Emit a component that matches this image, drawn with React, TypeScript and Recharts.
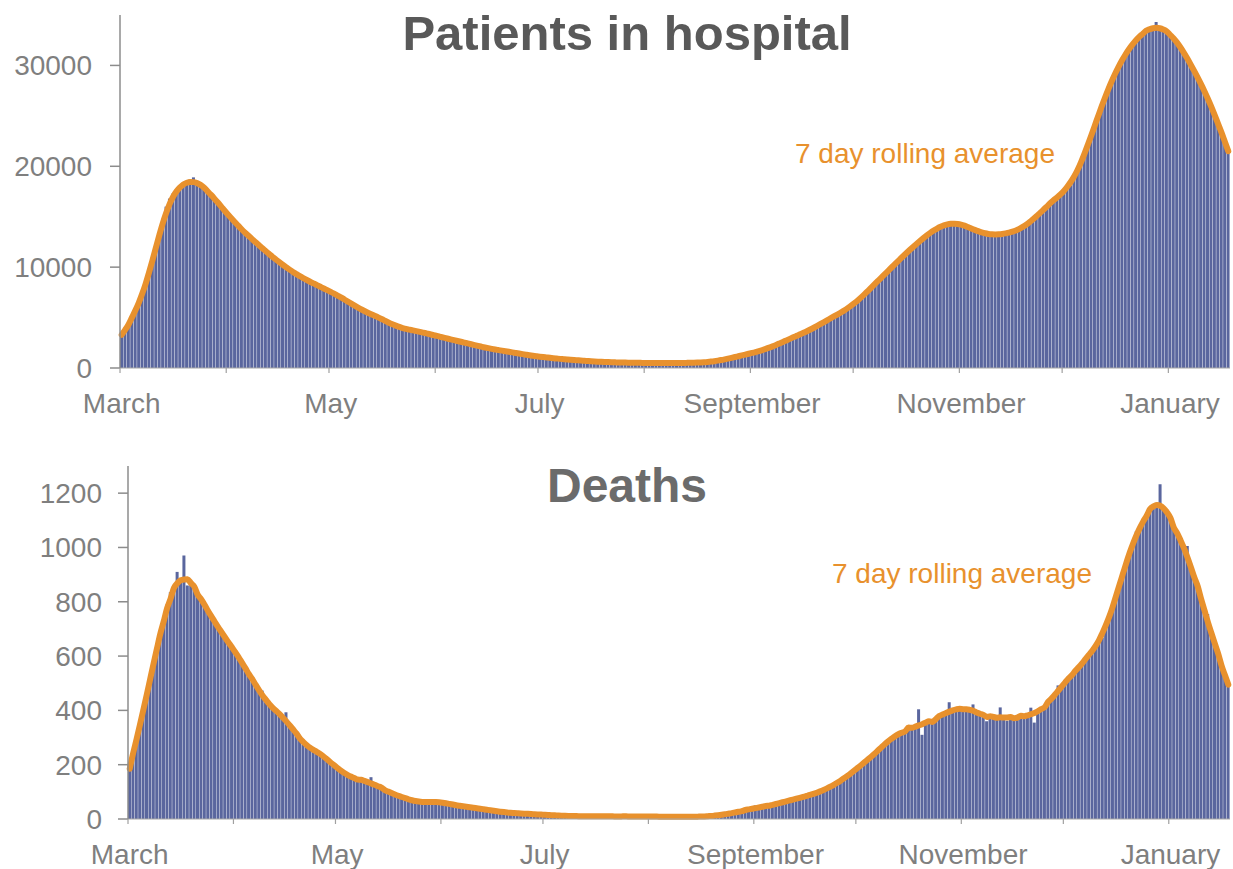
import { ComposedChart, Bar, Line, XAxis, YAxis } from "recharts";

// daily values, day 0 = start of the series (~20 March)
const hospital = [
  3300, 3750, 4300, 4850, 5400, 6300, 7200, 8200, 9200, 10500,
  11800, 13300, 14800, 16000, 16800, 17300, 17700, 18000, 18300, 18500,
  18700, 18900, 18500, 18200, 17900, 17600, 17300, 16900, 16400, 16000,
  15600, 15200, 14800, 14400, 14100, 13800, 13400, 13100, 12700, 12500,
  12200, 11900, 11600, 11300, 11000, 10700, 10500, 10200, 10000, 9750,
  9500, 9300, 9050, 8900, 8700, 8550, 8400, 8200, 8050, 7900,
  7700, 7550, 7400, 7200, 7000, 6800, 6600, 6400, 6150, 5950,
  5760, 5600, 5450, 5300, 5150, 5000, 4850, 4700, 4500, 4300,
  4100, 4000, 3950, 3850, 3800, 3750, 3650, 3600, 3500, 3450,
  3350, 3250, 3180, 3100, 3000, 2920, 2840, 2750, 2680, 2600,
  2520, 2440, 2360, 2280, 2200, 2100, 2000, 1950, 1900, 1830,
  1780, 1720, 1660, 1600, 1550, 1500, 1430, 1380, 1320, 1260,
  1200, 1160, 1120, 1080, 1050, 1000, 970, 940, 900, 870,
  840, 810, 790, 760, 740, 720, 700, 670, 650, 630,
  600, 590, 580, 570, 560, 550, 540, 530, 525, 520,
  515, 510, 505, 500, 500, 500, 495, 490, 490, 490,
  490, 490, 495, 500, 500, 505, 510, 520, 530, 540,
  560, 590, 620, 660, 710, 770, 840, 920, 1000, 1100,
  1180, 1250, 1320, 1400, 1480, 1570, 1660, 1760, 1870, 2000,
  2130, 2270, 2420, 2580, 2740, 2900, 3050, 3200, 3330, 3470,
  3620, 3780, 3950, 4150, 4400, 4580, 4760, 4940, 5120, 5300,
  5500, 5720, 5940, 6160, 6400, 6700, 7000, 7350, 7700, 8050,
  8400, 8750, 9050, 9400, 9700, 10050, 10400, 10750, 11100, 11400,
  11700, 12000, 12300, 12600, 12900, 13200, 13450, 13700, 13900, 14050,
  14200, 14300, 14400, 14450, 14400, 14300, 14150, 14000, 13850, 13650,
  13500, 13400, 13300, 13250, 13200, 13200, 13200, 13250, 13300, 13400,
  13500, 13600, 13700, 13900, 14100, 14400, 14700, 15000, 15400, 15700,
  16000, 16300, 16600, 17000, 17300, 17500, 17700, 18100, 18700, 19500,
  20300, 21100, 22000, 23000, 24000, 25000, 26000, 26900, 27800, 28600,
  29300, 30000, 30600, 31200, 31700, 32200, 32600, 32900, 33200, 33500,
  33700, 33800, 34300, 33700, 33600, 33500, 33200, 32900, 32500, 31900,
  31300, 30700, 30100, 29500, 28900, 28300, 27600, 26800, 26000, 25200,
  24300, 23400, 22400, 21500,
];

const deaths = [
  185, 250, 290, 340, 400, 450, 510, 570, 640, 690,
  740, 790, 835, 830, 910, 880, 970, 860, 870, 855,
  835, 810, 790, 760, 745, 730, 700, 690, 670, 650,
  630, 615, 600, 580, 560, 540, 505, 490, 465, 473,
  430, 420, 405, 395, 380, 370, 393, 345, 330, 310,
  290, 275, 265, 262, 258, 250, 240, 232, 225, 212,
  195, 185, 175, 170, 160, 155, 150, 145, 140, 137,
  130, 154, 125, 118, 112, 106, 100, 95, 90, 85,
  80, 76, 72, 68, 65, 62, 60, 60, 62, 64,
  66, 64, 62, 58, 55, 52, 50, 48, 47, 45,
  44, 42, 40, 38, 36, 34, 32, 30, 28, 26,
  25, 24, 23, 22, 21, 20, 20, 19, 18, 18,
  17, 16, 15, 15, 14, 13, 13, 12, 12, 11,
  11, 11, 10, 10, 10, 10, 10, 9, 10, 10,
  10, 9, 10, 10, 9, 10, 9, 10, 10, 10,
  9, 9, 10, 9, 8, 9, 9, 8, 9, 8,
  8, 9, 8, 8, 9, 8, 8, 9, 8, 9,
  10, 11, 12, 14, 15, 17, 19, 21, 24, 27,
  29, 32, 34, 36, 50, 40, 43, 46, 49, 52,
  55, 58, 62, 65, 68, 72, 75, 78, 81, 84,
  88, 92, 96, 100, 106, 112, 118, 125, 132, 140,
  148, 158, 168, 178, 188, 198, 208, 218, 228, 240,
  252, 262, 275, 290, 300, 308, 315, 320, 325, 327,
  330, 335, 404, 310, 350, 356, 360, 368, 375, 380,
  385, 430, 395, 400, 403, 407, 405, 400, 422, 392,
  385, 380, 360, 374, 372, 368, 411, 365, 362, 368,
  370, 374, 378, 380, 382, 410, 355, 395, 400, 410,
  425, 440, 455, 492, 480, 500, 515, 530, 545, 560,
  575, 590, 594, 615, 640, 655, 668, 700, 740, 780,
  815, 860, 905, 950, 987, 1020, 1060, 1080, 1097, 1120,
  1140, 1155, 1165, 1233, 1150, 1130, 1100, 1075, 1050, 1020,
  985, 1005, 940, 900, 840, 800, 760, 755, 682, 640,
  600, 565, 530, 495,
];

// month boundaries (day index) and the labels shown under every other one
const monthTicks = [0, 31, 61, 92, 122, 153, 184, 214, 245, 275, 306];
const monthLabels = ["March", "", "May", "", "July", "", "September", "", "November", "", "January"];

const hospitalTicks = [0, 10000, 20000, 30000];
const deathTicks = [0, 200, 400, 600, 800, 1000, 1200];

const FONT = "'Liberation Sans', Arial, sans-serif";
const BAR = "#5a669e";
const ORANGE = "#E8912D";
const GREY_TEXT = "#7f7f7f";

// centred 7 day rolling average (window shrinks at the ends)
const rolling = (v: number[]) =>
  v.map((_, i) => {
    const r = Math.min(3, i, v.length - 1 - i);
    let s = 0;
    for (let k = i - r; k <= i + r; k++) s += v[k];
    return s / (2 * r + 1);
  });

const toRows = (v: number[]) => {
  const avg = rolling(v);
  return v.map((val, i) => ({ i, v: val, avg: avg[i] }));
};

const hospitalData = toRows(hospital);
const deathData = toRows(deaths);

const renderMonthTick = (props: any) => {
  const { x, y, payload } = props;
  const k = monthTicks.indexOf(Number(payload.value));
  if (k < 0) return <g />;
  const tx = x - 1.7; // tick sits on the left edge of the day's bar
  return (
    <g>
      <line x1={tx} x2={tx} y1={y} y2={y + 5} stroke="#a0a0a0" strokeWidth={1.2} />
      {monthLabels[k] && (
        <text x={x} y={y + 45} textAnchor="middle" fill={GREY_TEXT} fontSize={28} fontFamily={FONT}>
          {monthLabels[k]}
        </text>
      )}
    </g>
  );
};

type PanelProps = {
  data: { i: number; v: number; avg: number }[];
  height: number;
  top: number;
  xHeight: number;
  yWidth: number;
  yMax: number;
  yTicks: number[];
};

const Panel = ({ data, height, top, xHeight, yWidth, yMax, yTicks }: PanelProps) => (
  <ComposedChart
    width={1233}
    height={height}
    data={data}
    margin={{ top, right: 3, bottom: 0, left: 0 }}
    barCategoryGap={0}
    barGap={0}
  >
    <XAxis
      dataKey="i"
      interval={0}
      tickLine={false}
      tickSize={0}
      tickMargin={0}
      height={xHeight}
      axisLine={{ stroke: "#a6a6a6", strokeWidth: 1.2 }}
      tick={renderMonthTick}
    />
    <YAxis
      width={yWidth}
      domain={[0, yMax]}
      ticks={yTicks}
      interval={0}
      tickSize={10}
      tickMargin={yWidth === 120 ? 18 : 16}
      axisLine={{ stroke: "#8c8c8c", strokeWidth: 1.5 }}
      tickLine={{ stroke: "#8c8c8c", strokeWidth: 1.5 }}
      tick={{ fill: GREY_TEXT, fontSize: 28, fontFamily: FONT }}
    />
    <Bar dataKey="v" fill={BAR} isAnimationActive={false} />
    <Line
      dataKey="avg"
      type="monotone"
      stroke={ORANGE}
      strokeWidth={6}
      dot={false}
      strokeLinecap="round"
      strokeLinejoin="round"
      isAnimationActive={false}
    />
  </ComposedChart>
);

export default function App() {
  return (
    <div
      style={{
        position: "absolute",
        left: 0,
        top: 0,
        width: 1233,
        height: 869,
        background: "#fff",
        fontFamily: FONT,
      }}
    >
      <div style={{ position: "absolute", left: 0, top: 0 }}>
        <Panel
          data={hospitalData}
          height={430}
          top={15}
          xHeight={62}
          yWidth={120}
          yMax={35000}
          yTicks={hospitalTicks}
        />
      </div>
      <div style={{ position: "absolute", left: 0, top: 430 }}>
        <Panel
          data={deathData}
          height={439}
          top={36}
          xHeight={50}
          yWidth={128}
          yMax={1300}
          yTicks={deathTicks}
        />
      </div>
      <svg
        width={1233}
        height={869}
        style={{ position: "absolute", left: 0, top: 0, pointerEvents: "none" }}
      >
        <text x={627} y={50} textAnchor="middle" fontSize={49} fontWeight="bold" fill="#595959" fontFamily={FONT}>
          Patients in hospital
        </text>
        <text x={627} y={502} textAnchor="middle" fontSize={48} fontWeight="bold" fill="#6b6b6b" fontFamily={FONT}>
          Deaths
        </text>
        <text x={925} y={163} textAnchor="middle" fontSize={28} fill={ORANGE} fontFamily={FONT}>
          7 day rolling average
        </text>
        <text x={962} y={583} textAnchor="middle" fontSize={28} fill={ORANGE} fontFamily={FONT}>
          7 day rolling average
        </text>
      </svg>
    </div>
  );
}
